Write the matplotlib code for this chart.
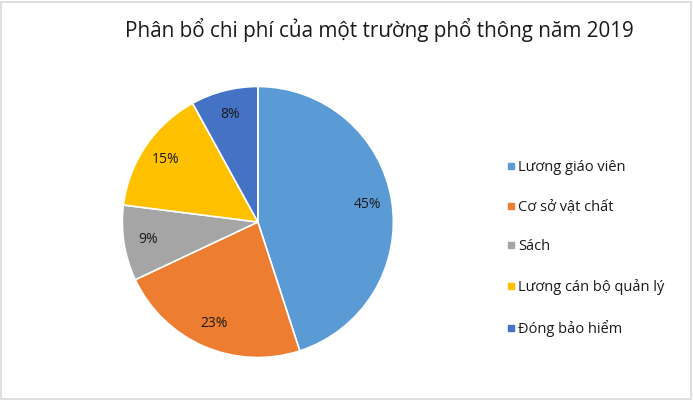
import matplotlib
matplotlib.use("Agg")
import matplotlib.pyplot as plt
from matplotlib.patches import Rectangle
from matplotlib.lines import Line2D

categories = ["Lương giáo viên", "Cơ sở vật chất", "Sách", "Lương cán bộ quản lý", "Đóng bảo hiểm"]
values = [45, 23, 9, 15, 8]
colors = ["#5B9BD5", "#ED7D31", "#A5A5A5", "#FFC000", "#4472C4"]

plt.rcParams['font.family'] = ['Open Sans', 'DejaVu Sans']

fig = plt.figure(figsize=(6.93, 4.00), dpi=100)
fig.patch.set_facecolor("white")
fig.patches.append(Rectangle((0.002, 0.003), 0.995, 0.993, transform=fig.transFigure,
                             fill=False, edgecolor="#D9D9D9", linewidth=1.2))

ax = fig.add_axes([0.1746, 0.1025, 0.395, 0.685])
wedges, texts, autotexts = ax.pie(values, colors=colors, startangle=90, counterclock=False,
                                  autopct="%d%%", pctdistance=0.82,
                                  wedgeprops=dict(edgecolor="white", linewidth=1.2),
                                  textprops=dict(fontsize=10, color="#1a1a1a"))
ax.set_xlim(-1.01, 1.01)
ax.set_ylim(-1.01, 1.01)
ax.set_aspect("equal")

fig.text(0.548, 0.925, "Phân bổ chi phí của một trường phổ thông năm 2019",
         ha="center", va="center", fontsize=14.9, color="#1a1a1a")

handles = [Line2D([0], [0], marker="s", linestyle="none", markersize=5,
                  markerfacecolor=c, markeredgecolor=c) for c in colors]
leg = fig.legend(handles, categories, loc="center left", bbox_to_anchor=(0.71, 0.379),
                 frameon=False, fontsize=10.5, handletextpad=0.1, handlelength=0.8,
                 labelspacing=1.7, labelcolor="#1a1a1a")

fig.savefig("out.png", dpi=100, facecolor="white")
